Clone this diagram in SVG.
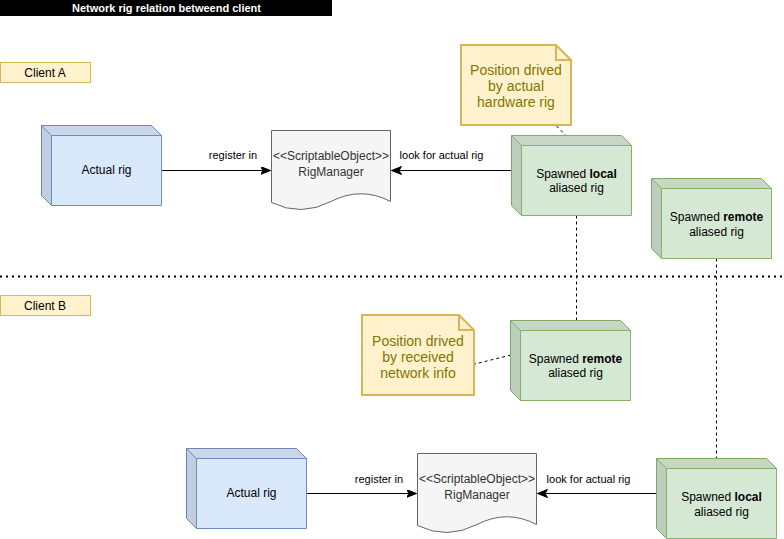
<svg xmlns="http://www.w3.org/2000/svg" width="784" height="539" viewBox="0 0 784 539">
<defs>
<style>
text{font-family:"Liberation Sans",Arial,sans-serif;}
.t12{font-size:12px;fill:#000;text-anchor:middle;}
.t11{font-size:11px;fill:#000;text-anchor:middle;}
.doc{fill:#f5f5f5;stroke:#666666;stroke-width:1;}
.doct{font-size:12px;fill:#333333;text-anchor:middle;}
.note{fill:#fff2cc;stroke:#d6b656;stroke-width:2;stroke-linejoin:miter;}
.notet{font-size:14px;fill:#857400;text-anchor:middle;}
.client{fill:#fff2cc;stroke:#d6b656;stroke-width:1;}
.blue{fill:#dae8fc;stroke:#6c8ebf;stroke-width:1;}
.green{fill:#d5e8d4;stroke:#82b366;stroke-width:1;}
.shadeTop{fill:#000;fill-opacity:0.07;stroke:none;}
.shadeLeft{fill:#000;fill-opacity:0.11;stroke:none;}
.arrow{stroke:#000;stroke-width:1;fill:none;}
.dash{stroke:#000;stroke-width:1;fill:none;stroke-dasharray:3 3;}
.lbl{fill:#fff;}
</style>
<marker id="ah" markerUnits="userSpaceOnUse" markerWidth="12" markerHeight="10" refX="10" refY="4" orient="auto">
<path d="M0,0 L10,4 L0,8 L2.5,4 Z" fill="#000" stroke="#000" stroke-width="1"/>
</marker>
</defs>
<rect width="784" height="539" fill="#ffffff"/>

<g id="title">
<rect x="0" y="0" width="332" height="16" fill="#000"/>
<text x="166.5" y="12" font-size="11" font-weight="bold" fill="#fff" text-anchor="middle">Network rig relation betweend client</text>
</g>

<g id="clientA">
<rect class="client" x="0.5" y="62.5" width="90" height="20"/>
<text class="t12" x="45" y="76.5">Client A</text>
</g>

<g id="clientB">
<rect class="client" x="0.5" y="295.5" width="90" height="20"/>
<text class="t12" x="45" y="309.5">Client B</text>
</g>

<g id="separator">
<line x1="0" y1="276.5" x2="784" y2="276.5" stroke="#000" stroke-width="2" stroke-dasharray="2 4"/>
</g>

<g id="connectors">
<line class="arrow" x1="161" y1="170.5" x2="270.5" y2="170.5" marker-end="url(#ah)"/>
<rect class="lbl" x="208" y="148" width="50" height="14"/>
<text class="t11" x="233" y="159.2">register in</text>
<line class="arrow" x1="511" y1="170.5" x2="391.5" y2="170.5" marker-end="url(#ah)"/>
<rect class="lbl" x="399" y="148" width="85" height="14"/>
<text class="t11" x="441.5" y="159.2">look for actual rig</text>

<line class="arrow" x1="306" y1="493.5" x2="416.5" y2="493.5" marker-end="url(#ah)"/>
<rect class="lbl" x="354" y="472" width="50" height="14"/>
<text class="t11" x="379" y="483">register in</text>
<line class="arrow" x1="656" y1="493.5" x2="537.5" y2="493.5" marker-end="url(#ah)"/>
<rect class="lbl" x="546" y="472" width="85" height="14"/>
<text class="t11" x="588.5" y="483">look for actual rig</text>

<line class="dash" x1="556.5" y1="126" x2="566" y2="135.5"/>
<line class="dash" x1="576.5" y1="215.5" x2="576.5" y2="320.5"/>
<line class="dash" x1="716.5" y1="258.5" x2="716.5" y2="458.5"/>
<line class="dash" x1="473" y1="364.5" x2="511" y2="355"/>
</g>

<g id="actualRigA">
<path class="blue" d="M41.5,125.5 H151.5 L161.5,135.5 V205.5 H51.5 L41.5,195.5 Z"/>
<path class="shadeTop" d="M41.5,125.5 H151.5 L161.5,135.5 H51.5 Z"/>
<path class="shadeLeft" d="M41.5,125.5 L51.5,135.5 V205.5 L41.5,195.5 Z"/>
<path d="M41.5,125.5 L51.5,135.5 H161.5 M51.5,135.5 V205.5" fill="none" stroke="#6c8ebf"/>
<text class="t12" x="106.5" y="174.3">Actual rig</text>
</g>

<g id="rigManagerA">
<path class="doc" d="M271.5,130.5 H390.5 V201.5 Q361,186 331,201.5 Q301,217 271.5,202.5 Z"/>
<text class="doct" x="331" y="160">&lt;&lt;ScriptableObject&gt;&gt;</text>
<text class="doct" x="331" y="176">RigManager</text>
</g>

<g id="noteA">
<path class="note" d="M461,45 H556 L571,60 V125 H461 Z"/>
<path d="M556,45 V60 H571" fill="none" stroke="#d6b656" stroke-width="2"/>
<text class="notet" x="516" y="75">Position drived</text>
<text class="notet" x="516" y="91">by actual</text>
<text class="notet" x="516" y="107">hardware rig</text>
</g>

<g id="localA">
<path class="green" d="M511.5,135.5 H621.5 L631.5,145.5 V215.5 H521.5 L511.5,205.5 Z"/>
<path class="shadeTop" d="M511.5,135.5 H621.5 L631.5,145.5 H521.5 Z"/>
<path class="shadeLeft" d="M511.5,135.5 L521.5,145.5 V215.5 L511.5,205.5 Z"/>
<path d="M511.5,135.5 L521.5,145.5 H631.5 M521.5,145.5 V215.5" fill="none" stroke="#82b366"/>
<text class="t12" x="576.5" y="178">Spawned <tspan font-weight="bold">local</tspan></text>
<text class="t12" x="576.5" y="192">aliased rig</text>
</g>

<g id="remoteA">
<path class="green" d="M651.5,178.5 H761.5 L771.5,188.5 V258.5 H661.5 L651.5,248.5 Z"/>
<path class="shadeTop" d="M651.5,178.5 H761.5 L771.5,188.5 H661.5 Z"/>
<path class="shadeLeft" d="M651.5,178.5 L661.5,188.5 V258.5 L651.5,248.5 Z"/>
<path d="M651.5,178.5 L661.5,188.5 H771.5 M661.5,188.5 V258.5" fill="none" stroke="#82b366"/>
<text class="t12" x="716.5" y="221">Spawned <tspan font-weight="bold">remote</tspan></text>
<text class="t12" x="716.5" y="235.5">aliased rig</text>
</g>

<g id="noteB">
<path class="note" d="M362,315 H459 L474,330 V395 H362 Z"/>
<path d="M459,315 V330 H474" fill="none" stroke="#d6b656" stroke-width="2"/>
<text class="notet" x="418" y="345.5">Position drived</text>
<text class="notet" x="418" y="361.5">by received</text>
<text class="notet" x="418" y="377.5">network info</text>
</g>

<g id="remoteB">
<path class="green" d="M510.5,320.5 H620.5 L630.5,330.5 V400.5 H520.5 L510.5,390.5 Z"/>
<path class="shadeTop" d="M510.5,320.5 H620.5 L630.5,330.5 H520.5 Z"/>
<path class="shadeLeft" d="M510.5,320.5 L520.5,330.5 V400.5 L510.5,390.5 Z"/>
<path d="M510.5,320.5 L520.5,330.5 H630.5 M520.5,330.5 V400.5" fill="none" stroke="#82b366"/>
<text class="t12" x="575.5" y="363">Spawned <tspan font-weight="bold">remote</tspan></text>
<text class="t12" x="575.5" y="377">aliased rig</text>
</g>

<g id="actualRigB">
<path class="blue" d="M186.5,448.5 H296.5 L306.5,458.5 V528.5 H196.5 L186.5,518.5 Z"/>
<path class="shadeTop" d="M186.5,448.5 H296.5 L306.5,458.5 H196.5 Z"/>
<path class="shadeLeft" d="M186.5,448.5 L196.5,458.5 V528.5 L186.5,518.5 Z"/>
<path d="M186.5,448.5 L196.5,458.5 H306.5 M196.5,458.5 V528.5" fill="none" stroke="#6c8ebf"/>
<text class="t12" x="251.5" y="497.3">Actual rig</text>
</g>

<g id="rigManagerB">
<path class="doc" d="M417.5,453.5 H536.5 V524.5 Q507,509 477,524.5 Q447,540 417.5,525.5 Z"/>
<text class="doct" x="477" y="483">&lt;&lt;ScriptableObject&gt;&gt;</text>
<text class="doct" x="477" y="499">RigManager</text>
</g>

<g id="localB">
<path class="green" d="M656.5,458.5 H766.5 L776.5,468.5 V538.5 H666.5 L656.5,528.5 Z"/>
<path class="shadeTop" d="M656.5,458.5 H766.5 L776.5,468.5 H666.5 Z"/>
<path class="shadeLeft" d="M656.5,458.5 L666.5,468.5 V538.5 L656.5,528.5 Z"/>
<path d="M656.5,458.5 L666.5,468.5 H776.5 M666.5,468.5 V538.5" fill="none" stroke="#82b366"/>
<text class="t12" x="721.5" y="501">Spawned <tspan font-weight="bold">local</tspan></text>
<text class="t12" x="721.5" y="515.5">aliased rig</text>
</g>
</svg>
